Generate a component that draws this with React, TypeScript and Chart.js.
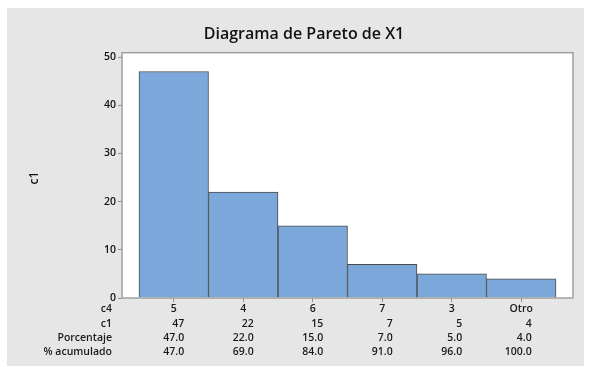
import React, { useEffect, useRef } from "react";
import { Chart, registerables } from "chart.js";

Chart.register(...registerables);

const categories = ["5", "4", "6", "7", "3", "Otro"];
const counts = [47, 22, 15, 7, 5, 4];
const percents = [47.0, 22.0, 15.0, 7.0, 5.0, 4.0];
const cumulative = [47.0, 69.0, 84.0, 91.0, 96.0, 100.0];
const rowLabels = ["c4", "c1", "Porcentaje", "% acumulado"];
const yTicks = [0, 10, 20, 30, 40, 50];
const title = "Diagrama de Pareto de X1";
const yTitle = "c1";

const FONT = "'Open Sans', 'DejaVu Sans', sans-serif";
const W = 589;
const H = 367;

export default function App() {
  const ref = useRef<HTMLCanvasElement | null>(null);

  useEffect(() => {
    const canvas = ref.current;
    if (!canvas) return;

    const decor = {
      id: "decor",
      beforeDraw(chart: any) {
        const { ctx, chartArea } = chart;
        ctx.save();
        ctx.fillStyle = "#ffffff";
        ctx.fillRect(0, 0, W, H);
        ctx.fillStyle = "#e6e6e6";
        ctx.fillRect(7, 8, 577, 358);
        ctx.fillStyle = "#ffffff";
        ctx.fillRect(chartArea.left, chartArea.top, chartArea.right - chartArea.left, chartArea.bottom - chartArea.top);
        ctx.restore();
      },
      afterDatasetsDraw(chart: any) {
        const { ctx, chartArea } = chart;
        ctx.save();
        ctx.strokeStyle = "#a0a0a0";
        ctx.lineWidth = 1.5;
        ctx.strokeRect(chartArea.left, chartArea.top, chartArea.right - chartArea.left, chartArea.bottom - chartArea.top);
        ctx.restore();
      },
      afterDraw(chart: any) {
        const { ctx } = chart;
        const xs = chart.scales.x;
        ctx.save();
        ctx.fillStyle = "#111111";
        ctx.font = `600 16px ${FONT}`;
        ctx.textAlign = "center";
        ctx.textBaseline = "middle";
        ctx.fillText(title, 304, 34);
        ctx.save();
        ctx.translate(35, 178);
        ctx.rotate(-Math.PI / 2);
        ctx.font = `600 12px ${FONT}`;
        ctx.fillText(yTitle, 0, 0);
        ctx.restore();
        ctx.font = `600 10.5px ${FONT}`;
        ctx.fillStyle = "#1a1a1a";
        const rowsY = [309.5, 324, 338.5, 352.5];
        ctx.textAlign = "right";
        rowLabels.forEach((l, r) => ctx.fillText(l, 112, rowsY[r]));
        const rows = [
          counts.map((v) => String(v)),
          percents.map((v) => v.toFixed(1)),
          cumulative.map((v) => v.toFixed(1)),
        ];
        rows.forEach((row, r) => {
          row.forEach((t, i) => {
            const px = xs.getPixelForValue(i);
            ctx.fillText(t, px + 10.5, rowsY[r + 1]);
          });
        });
        ctx.restore();
      },
    };

    const chart = new Chart(canvas, {
      type: "bar",
      data: {
        datasets: [
          {
            label: "c1",
            data: counts.map((v, i) => ({ x: i, y: v })),
            backgroundColor: "#7ba7db",
            borderColor: "#4a4a4a",
            borderWidth: 1,
            barPercentage: 1,
            categoryPercentage: 1,
          },
        ],
      },
      options: {
        responsive: false,
        animation: false,
        events: [],
        layout: { padding: { left: 0, right: 16, top: 52.7, bottom: 0 } },
        plugins: { legend: { display: false }, tooltip: { enabled: false } },
        scales: {
          x: {
            type: "linear",
            offset: false,
            min: -0.7446,
            max: 5.7446,
            afterBuildTicks: (s: any) => {
              s.ticks = categories.map((_, i) => ({ value: i }));
            },
            afterFit: (s: any) => {
              s.height = 69;
            },
            border: { display: false },
            grid: { offset: false, drawOnChartArea: false, drawTicks: true, tickLength: 4, color: "#909090" },
            ticks: {
              autoSkip: false,
              maxRotation: 0,
              padding: 1,
              color: "#1a1a1a",
              font: { family: FONT, size: 10.5, weight: "600" },
              callback: (v: any) => categories[Math.round(Number(v))] ?? "",
            },
          },
          y: {
            min: 0,
            max: 50.9,
            afterBuildTicks: (s: any) => {
              s.ticks = yTicks.map((v) => ({ value: v }));
            },
            afterFit: (s: any) => {
              s.width = 122;
            },
            border: { display: false },
            grid: { drawOnChartArea: false, drawTicks: true, tickLength: 4, color: "#909090" },
            ticks: {
              padding: 2,
              color: "#111111",
              font: { family: FONT, size: 10.5, weight: "600" },
            },
          },
        },
      },
      plugins: [decor],
    });

    return () => chart.destroy();
  }, []);

  return (
    <div style={{ position: "fixed", left: 0, top: 0, width: W, height: H }}>
      <canvas ref={ref} width={W} height={H} style={{ display: "block", width: W, height: H }} />
    </div>
  );
}
